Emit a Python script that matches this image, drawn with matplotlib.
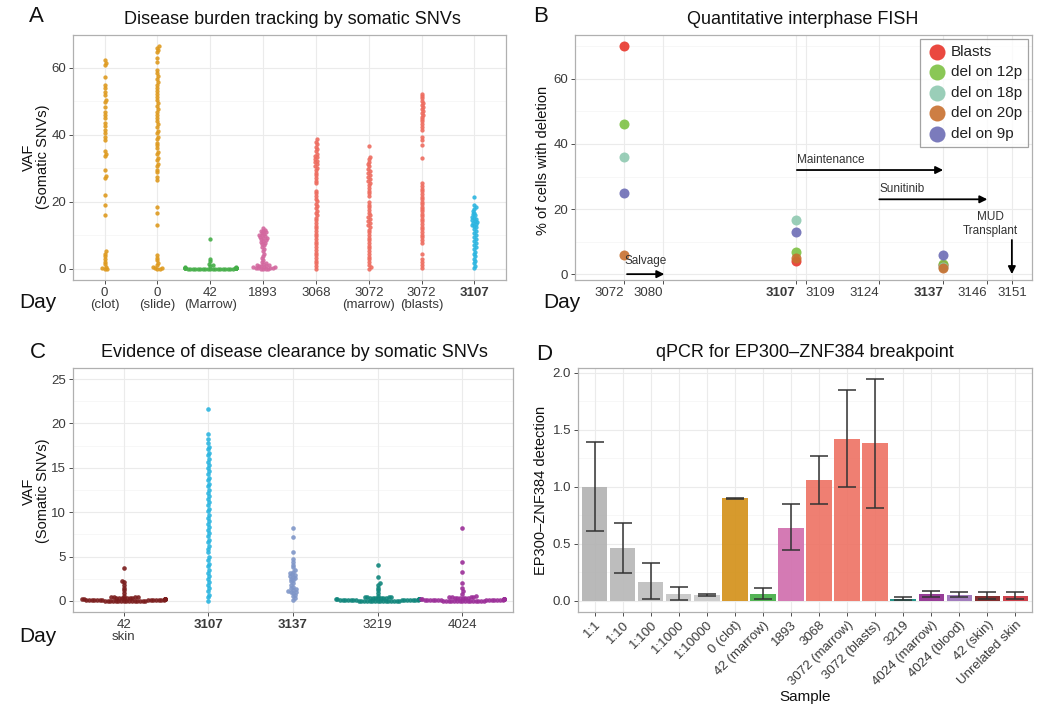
# Four-panel summary: somatic SNV VAF swarms, FISH time course, qPCR bars

import numpy as np
import matplotlib.pyplot as plt

plt.rcParams['font.family'] = ['Liberation Sans', 'DejaVu Sans']

W, H = 1050, 708

# ---- panel A: VAF by sample (somatic SNVs)
a_labels = ['0\n(clot)', '0\n(slide)', '42\n(Marrow)', '1893', '3068',
            '3072\n(marrow)', '3072\n(blasts)', '3107']
a_colors = ['#DE9A1F', '#DE9A1F', '#45AE48', '#D3689F', '#EE6C5F',
            '#EE6C5F', '#EE6C5F', '#2BB5E0']
vaf_clot = [62.3, 61.5, 60.8, 57.2, 55.0, 54.0, 52.8, 51.9, 50.4, 49.8, 48.3,
            46.9, 46.0, 45.1, 43.4, 42.5, 41.4, 40.6, 39.4, 38.6, 35.1, 34.2,
            33.6, 29.5, 27.7, 27.0, 22.0, 19.0, 16.0, 5.3, 4.6, 3.8, 3.0, 2.2,
            1.4, 0.7, 0.3, 0.1, 0.0]
vaf_slide = [66.6, 66.0, 65.3, 64.6, 63.0, 61.8, 59.4, 58.6, 57.5, 56.8, 55.7,
             55.0, 54.0, 53.2, 52.1, 51.3, 50.5, 49.4, 48.7, 47.6, 46.9, 45.8,
             45.0, 44.2, 43.1, 42.4, 41.3, 40.6, 39.5, 38.8, 37.7, 36.9, 36.1,
             35.0, 34.3, 33.2, 32.5, 31.4, 30.7, 29.6, 28.8, 27.4, 26.6, 18.6,
             16.6, 13.1, 4.2, 3.4, 2.6, 1.8, 1.1, 0.6, 0.3, 0.1, 0.0, 0.2]
vaf_marrow42 = [0.0, 0.1, 0.0, 0.2, 0.1, 0.3, 0.0, 0.1, 0.2, 0.0, 0.4, 0.1,
                0.0, 0.2, 0.3, 0.1, 0.0, 0.2, 0.1, 0.0, 0.3, 0.1, 0.2, 0.0,
                0.4, 0.1, 0.0, 0.2, 0.5, 0.3, 0.1, 0.0, 0.2, 0.6, 0.4, 0.9,
                1.2, 1.5, 2.3, 3.1, 8.8]
vaf_1893 = [12.1, 11.7, 11.4, 11.2, 10.9, 10.7, 10.5, 10.2, 10.0, 9.8, 9.6,
            9.3, 9.1, 8.9, 8.6, 8.4, 8.1, 7.8, 7.5, 7.1, 6.6, 6.0, 5.3, 4.6,
            3.9, 3.2, 2.6, 2.1, 1.7, 1.5, 1.3, 1.2, 1.0, 0.9, 0.8, 0.7, 0.6,
            0.5, 0.4, 0.3, 0.3, 0.2, 0.1, 0.1, 0.0, 0.0]
vaf_3068 = [38.7, 38.0, 37.2, 36.5, 35.8, 35.1, 34.4, 33.8, 33.3, 32.8, 32.3,
            31.8, 31.3, 30.8, 30.2, 29.5, 28.7, 27.9, 27.1, 26.3, 25.5, 23.4,
            22.6, 21.8, 21.0, 20.2, 19.5, 18.8, 18.1, 17.4, 16.7, 16.0, 15.3,
            14.5, 13.7, 12.9, 12.1, 11.3, 10.5, 9.7, 8.9, 8.1, 7.3, 6.5, 5.7,
            4.9, 4.1, 3.3, 2.5, 1.7, 0.9, 0.1]
vaf_3072m = [36.7, 33.5, 32.8, 32.0, 31.3, 30.6, 29.9, 29.3, 28.7, 28.1, 27.5,
             26.9, 26.3, 25.7, 25.0, 24.2, 23.4, 22.6, 21.8, 20.0, 19.2, 18.4,
             17.6, 16.8, 16.0, 15.4, 14.8, 14.2, 13.6, 13.0, 12.4, 11.7, 10.9,
             10.1, 9.3, 8.5, 7.7, 6.9, 6.1, 5.3, 4.5, 3.7, 2.9, 2.1, 1.3, 0.5,
             0.0]
vaf_3072b = [52.3, 51.6, 50.9, 50.2, 49.6, 49.0, 48.4, 47.8, 47.2, 46.6, 46.0,
             45.4, 44.7, 44.0, 43.2, 42.4, 41.6, 39.5, 38.6, 37.0, 33.0, 25.6,
             24.8, 24.0, 23.2, 22.4, 21.6, 20.8, 20.0, 19.3, 18.6, 17.9, 17.2,
             16.5, 15.8, 15.0, 14.2, 13.4, 12.6, 11.8, 11.0, 10.2, 9.4, 8.6,
             7.8, 4.5, 2.9, 2.0, 1.2, 0.4]
vaf_3107a = [21.6, 19.1, 18.5, 17.9, 17.3, 16.8, 16.3, 16.0, 15.6, 15.3, 15.0,
             14.7, 14.4, 14.1, 13.8, 13.5, 13.2, 12.9, 12.5, 12.0, 11.4, 10.8,
             10.1, 9.5, 8.9, 8.3, 7.7, 7.1, 6.5, 5.9, 5.2, 4.5, 3.8, 3.1, 2.4,
             1.7, 1.0, 0.3]
a_values = [vaf_clot, vaf_slide, vaf_marrow42, vaf_1893, vaf_3068, vaf_3072m,
            vaf_3072b, vaf_3107a]

# ---- panel B: FISH, % of cells with deletion
fish_days = [3072, 3107, 3137]
fish_series = ['Blasts', 'del on 12p', 'del on 18p', 'del on 20p', 'del on 9p']
fish_blasts = [70.0, 4.0, 2.8]
fish_12p = [46.0, 6.8, 3.0]
fish_18p = [36.0, 16.5, 2.2]
fish_20p = [6.0, 5.0, 1.8]
fish_9p = [25.0, 13.0, 5.8]
fish_colors = ['#E8352B', '#7DC143', '#8FC9B1', '#C8702F', '#6D6DB5']
b_ticks = [3072, 3080, 3107, 3109, 3124, 3137, 3146, 3151]
b_tick_ha = ['right', 'right', 'right', 'left', 'right', 'right', 'right', 'center']
b_bold = [3107, 3137]
salvage = (3072.6, 3080.2)
maintenance = (3107.2, 3137)
sunitinib = (3124, 3146)
transplant_day = 3151

# ---- panel C: VAF after treatment
c_labels = ['42\nskin', '3107', '3137', '3219', '4024']
c_colors = ['#7A1C1C', '#2BB5E0', '#7F96C8', '#0F857B', '#9B2E98']
vaf_skin42 = [0.0, 0.1, 0.2, 0.0, 0.3, 0.1, 0.0, 0.2, 0.4, 0.1, 0.0, 0.3, 0.2,
              0.0, 0.1, 0.4, 0.0, 0.2, 0.1, 0.3, 0.0, 0.1, 0.2, 0.0, 0.4, 0.1,
              0.0, 0.2, 0.3, 0.1, 0.0, 0.2, 0.1, 0.0, 0.3, 0.2, 0.1, 0.0, 0.2,
              0.4, 0.1, 0.0, 0.3, 0.1, 0.2, 0.0, 0.1, 0.3, 0.0, 0.2, 0.1, 0.0,
              0.6, 0.9, 1.2, 1.5, 1.8, 2.1, 2.3, 3.75]
vaf_3107c = [21.6, 18.8, 18.2, 17.8, 17.4, 17.1, 16.7, 16.4, 16.0, 15.7, 15.3,
             15.0, 14.6, 14.3, 13.9, 13.6, 13.2, 12.9, 12.5, 12.2, 11.8, 11.5,
             11.1, 10.8, 10.4, 10.1, 9.7, 9.4, 9.0, 8.7, 8.3, 8.0, 7.6, 7.3,
             6.9, 6.6, 6.2, 5.9, 5.5, 4.9, 4.6, 4.2, 3.9, 3.5, 3.2, 2.8, 2.5,
             2.1, 1.8, 1.4, 1.1, 0.7, 0.4, 0.0]
vaf_3137 = [8.2, 7.2, 5.5, 4.7, 4.4, 4.1, 3.8, 3.5, 3.3, 3.1, 3.0, 2.9, 2.8,
            2.7, 2.6, 2.5, 2.4, 2.2, 2.0, 1.8, 1.6, 1.4, 1.3, 1.2, 1.1, 1.05,
            1.0, 0.9, 0.7, 0.5, 0.3, 0.1]
vaf_3219 = [0.0, 0.1, 0.2, 0.0, 0.3, 0.1, 0.0, 0.2, 0.4, 0.1, 0.0, 0.3, 0.2,
            0.0, 0.1, 0.4, 0.0, 0.2, 0.1, 0.3, 0.0, 0.1, 0.2, 0.0, 0.4, 0.1,
            0.0, 0.2, 0.3, 0.1, 0.0, 0.2, 0.0, 0.1, 0.3, 0.2, 0.0, 0.1, 0.4,
            0.2, 0.0, 0.1, 0.3, 0.0, 0.2, 0.1, 0.0, 0.2, 0.1, 0.3, 0.0, 0.1,
            0.6, 0.9, 1.2, 1.5, 1.8, 2.0, 2.7, 4.0]
vaf_4024 = [0.0, 0.1, 0.2, 0.0, 0.3, 0.1, 0.0, 0.2, 0.4, 0.1, 0.0, 0.3, 0.2,
            0.0, 0.1, 0.4, 0.0, 0.2, 0.1, 0.3, 0.0, 0.1, 0.2, 0.0, 0.4, 0.1,
            0.0, 0.2, 0.3, 0.1, 0.0, 0.2, 0.1, 0.2, 0.0, 0.3, 0.1, 0.0, 0.2,
            0.1, 0.4, 0.0, 0.2, 0.1, 0.0, 0.3, 0.1, 0.2, 0.0, 0.1, 0.2, 0.0,
            0.5, 0.8, 1.1, 1.4, 2.0, 3.3, 4.4, 8.2]
c_values = [vaf_skin42, vaf_3107c, vaf_3137, vaf_3219, vaf_4024]

# ---- panel D: qPCR
qpcr_samples = ['1:1', '1:10', '1:100', '1:1000', '1:10000', '0 (clot)',
                '42 (marrow)', '1893', '3068', '3072 (marrow)', '3072 (blasts)',
                '3219', '4024 (marrow)', '4024 (blood)', '42 (skin)',
                'Unrelated skin']
qpcr_mean = [1.00, 0.46, 0.17, 0.06, 0.05, 0.90, 0.06, 0.64, 1.06, 1.42, 1.38,
             0.015, 0.06, 0.055, 0.045, 0.045]
qpcr_low = [0.61, 0.245, 0.02, 0.005, 0.04, 0.895, 0.015, 0.445, 0.85, 0.995,
            0.815, 0.005, 0.035, 0.035, 0.02, 0.02]
qpcr_high = [1.39, 0.68, 0.33, 0.125, 0.065, 0.905, 0.115, 0.85, 1.27, 1.85,
             1.94, 0.03, 0.09, 0.075, 0.075, 0.075]
qpcr_colors = ['#B3B3B3', '#B8B8B8', '#BEBEBE', '#C6C6C6', '#CACACA', '#D4921B',
               '#45AE48', '#D16FAE', '#EE7466', '#EE7466', '#EE7466', '#138A7E',
               '#8E2C8E', '#9A72B8', '#7A1E1E', '#C8323C']

GRID = '#EBEBEB'
GRID_MINOR = '#F6F6F6'
TXT = '#3A3A3A'


def px_rect(l, t, r, b):
    return [l / W, 1 - b / H, (r - l) / W, (b - t) / H]


def fpos(x, y):
    return x / W, 1 - y / H


def style(ax, yticks, yminor=None, xgrid=True):
    for s in ax.spines.values():
        s.set_color('#B0B0B0')
        s.set_linewidth(0.9)
    ax.tick_params(direction='out', length=3, width=0.7, color='#4D4D4D',
                   labelcolor=TXT, labelsize=9.5, pad=2)
    ax.set_yticks(yticks)
    if yminor is not None:
        for v in yminor:
            ax.axhline(v, color=GRID_MINOR, lw=0.6, zorder=0)
    for v in yticks:
        ax.axhline(v, color=GRID, lw=0.8, zorder=0)
    if xgrid:
        for v in ax.get_xticks():
            ax.axvline(v, color=GRID, lw=0.8, zorder=0)


def swarm(ax, xc, vals, d_px, max_half=0.5):
    # simple beeswarm layout in pixel space (d_px = spacing between centres)
    vals = np.asarray(vals, dtype=float)
    ys = ax.transData.transform(np.column_stack([np.full(len(vals), xc), vals]))[:, 1]
    xscale = (ax.transData.transform([(xc + 1, 0)])[0, 0]
              - ax.transData.transform([(xc, 0)])[0, 0])
    lim = max_half * xscale
    offs = np.zeros(len(vals))
    placed = []
    for i in np.argsort(ys):
        y = ys[i]
        near = [(ox, oy) for ox, oy in placed if abs(oy - y) < d_px]
        cands = [0.0]
        for ox, oy in near:
            dx = np.sqrt(d_px ** 2 - (oy - y) ** 2)
            cands += [ox + dx, ox - dx]
        cands.sort(key=abs)
        best = cands[-1]
        for c in cands:
            if all((c - ox) ** 2 + (y - oy) ** 2 >= d_px ** 2 - 1e-6 for ox, oy in near):
                best = c
                break
        best = float(np.clip(best, -lim, lim))
        offs[i] = best
        placed.append((best, y))
    return xc + offs / xscale, vals


def main():
    fig = plt.figure(figsize=(W / 100, H / 100), dpi=100)

    # ---------------- A
    ax = fig.add_axes(px_rect(73, 35, 506, 280))
    ax.set_xlim(-0.6, len(a_labels) - 0.4)
    ax.set_ylim(-3.3, 69.8)
    ax.set_xticks(range(len(a_labels)))
    ax.set_xticklabels(a_labels, fontsize=9.5, linespacing=1.05)
    ax.get_xticklabels()[-1].set_fontweight('bold')
    style(ax, [0, 20, 40, 60], [10, 30, 50])
    dot, gap = 4.3, 2.5
    for i, (vals, col) in enumerate(zip(a_values, a_colors)):
        xs, ys = swarm(ax, i, vals, gap, max_half=0.48)
        ax.scatter(xs, ys, s=(dot * 0.72) ** 2, color=col, lw=0, alpha=0.9, zorder=3)

    # ---------------- B
    ax = fig.add_axes(px_rect(575, 35, 1032, 280))
    ax.set_xlim(3062.0, 3155.1)
    ax.set_ylim(-1.8, 73.5)
    ax.set_xticks(b_ticks)
    ax.set_xticklabels([str(t) for t in b_ticks])
    style(ax, [0, 20, 40, 60], [10, 30, 50, 70])
    for lbl, ha, t in zip(ax.get_xticklabels(), b_tick_ha, b_ticks):
        lbl.set_ha(ha)
        if t in b_bold:
            lbl.set_fontweight('bold')
    series = [fish_blasts, fish_12p, fish_18p, fish_20p, fish_9p]
    for name, vals, col in zip(fish_series, series, fish_colors):
        ax.scatter(fish_days, vals, s=52, color=col, lw=0, alpha=0.9,
                   zorder=3, label=name)
    leg = ax.legend(loc='upper right', fontsize=11, markerscale=1.6,
                    frameon=True, fancybox=False, borderaxespad=0.25,
                    labelspacing=0.42, handletextpad=0.2, borderpad=0.4,
                    handlelength=1.4)
    leg.get_frame().set_edgecolor('#8C8C8C')
    leg.get_frame().set_linewidth(0.9)
    for t in leg.get_texts():
        t.set_color('#222222')
    arrow = dict(arrowstyle='-|>', color='black', lw=1.3, mutation_scale=11,
                 shrinkA=0, shrinkB=0)
    ax.annotate('', xy=(salvage[1], 0), xytext=(salvage[0], 0), arrowprops=arrow)
    ax.text(sum(salvage) / 2, 2.2, 'Salvage', ha='center', va='bottom',
            fontsize=8.5, color='#333333')
    ax.annotate('', xy=(maintenance[1], 32), xytext=(maintenance[0], 32),
                arrowprops=arrow)
    ax.text(maintenance[0], 33.2, 'Maintenance', ha='left', va='bottom',
            fontsize=8.5, color='#333333')
    ax.annotate('', xy=(sunitinib[1], 23), xytext=(sunitinib[0], 23),
                arrowprops=arrow)
    ax.text(sunitinib[0], 24.2, 'Sunitinib', ha='left', va='bottom',
            fontsize=8.5, color='#333333')
    ax.annotate('', xy=(transplant_day, 0), xytext=(transplant_day, 10.5),
                arrowprops=arrow)
    ax.text(transplant_day - 4.3, 11.5, 'MUD\nTransplant', ha='center',
            va='bottom', fontsize=8.5, color='#333333', linespacing=1.2)

    # ---------------- C
    ax = fig.add_axes(px_rect(73, 368, 513, 612))
    ax.set_xlim(-0.6, len(c_labels) - 0.4)
    ax.set_ylim(-1.25, 26.25)
    ax.set_xticks(range(len(c_labels)))
    ax.set_xticklabels(c_labels, fontsize=9.5, linespacing=1.05)
    for k in (1, 2):
        ax.get_xticklabels()[k].set_fontweight('bold')
    style(ax, [0, 5, 10, 15, 20, 25], [2.5, 7.5, 12.5, 17.5, 22.5])
    dot, gap = 4.6, 2.7
    for i, (vals, col) in enumerate(zip(c_values, c_colors)):
        xs, ys = swarm(ax, i, vals, gap, max_half=0.49)
        ax.scatter(xs, ys, s=(dot * 0.72) ** 2, color=col, lw=0, alpha=0.9, zorder=3)

    # ---------------- D
    ax = fig.add_axes(px_rect(578, 368, 1032, 612))
    n = len(qpcr_samples)
    ax.set_xlim(-0.6, n - 0.4)
    ax.set_ylim(-0.097, 2.04)
    ax.set_xticks(range(n))
    ax.set_xticklabels(qpcr_samples, rotation=45, ha='right',
                       rotation_mode='anchor', fontsize=9.5)
    style(ax, [0, 0.5, 1.0, 1.5, 2.0], [0.25, 0.75, 1.25, 1.75])
    ax.set_yticklabels(['0.0', '0.5', '1.0', '1.5', '2.0'])
    x = np.arange(n)
    mean = np.array(qpcr_mean)
    ax.bar(x, mean, width=0.9, color=qpcr_colors, alpha=0.92, zorder=2)
    yerr = [mean - np.array(qpcr_low), np.array(qpcr_high) - mean]
    ax.errorbar(x, mean, yerr=yerr, fmt='none', ecolor='#333333', elinewidth=1.1,
                capsize=6.5, capthick=1.1, zorder=3)

    # ---------------- figure text
    title_kw = dict(ha='center', va='center', fontsize=13, color='#111111')
    fig.text(*fpos(292, 20), 'Disease burden tracking by somatic SNVs', **title_kw)
    fig.text(*fpos(803, 20), 'Quantitative interphase FISH', **title_kw)
    fig.text(*fpos(294, 352), 'Evidence of disease clearance by somatic SNVs', **title_kw)
    fig.text(*fpos(805, 352), 'qPCR for EP300\u2013ZNF384 breakpoint', **title_kw)

    letter_kw = dict(ha='center', va='center', fontsize=16, color='#111111')
    fig.text(*fpos(36, 16), 'A', **letter_kw)
    fig.text(*fpos(541, 16), 'B', **letter_kw)
    fig.text(*fpos(38, 352), 'C', **letter_kw)
    fig.text(*fpos(544, 355), 'D', **letter_kw)

    day_kw = dict(ha='center', va='center', fontsize=15, color='#111111')
    fig.text(*fpos(38, 302), 'Day', **day_kw)
    fig.text(*fpos(562, 302), 'Day', **day_kw)
    fig.text(*fpos(38, 637), 'Day', **day_kw)

    ylab_kw = dict(ha='center', va='center', rotation=90, fontsize=10.5,
                   color='#111111', linespacing=1.0)
    fig.text(*fpos(36, 157), 'VAF\n(Somatic SNVs)', **ylab_kw)
    fig.text(*fpos(543, 160), '% of cells with deletion', **ylab_kw)
    fig.text(*fpos(36, 491), 'VAF\n(Somatic SNVs)', **ylab_kw)
    fig.text(*fpos(541, 490), 'EP300\u2013ZNF384 detection', **ylab_kw)
    fig.text(*fpos(805, 697), 'Sample', ha='center', va='center',
             fontsize=11, color='#111111')

    fig.savefig('out.png', dpi=100)


if __name__ == "__main__":
    main()
